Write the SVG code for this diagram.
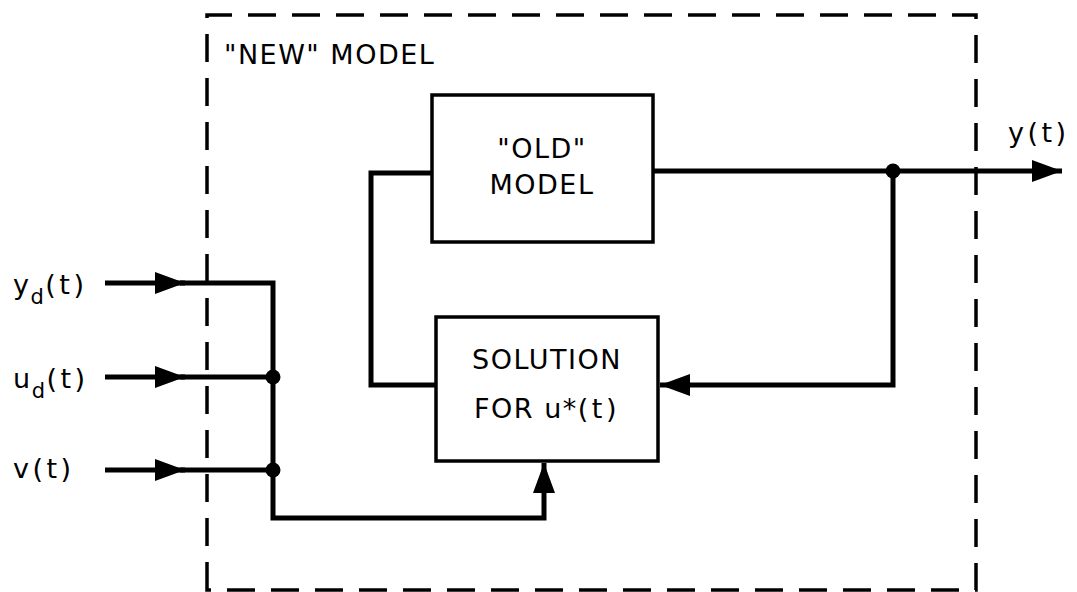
<svg xmlns="http://www.w3.org/2000/svg" width="1077" height="592" viewBox="0 0 1077 592">
<defs>
<style>
.t{font-family:"DejaVu Sans","Liberation Sans",sans-serif;font-size:27px;letter-spacing:1.5px;fill:#000}
.p{letter-spacing:3.5px}
.sub{font-size:21px}
.box{fill:#fff;stroke:#000;stroke-width:3.5}
.w{fill:none;stroke:#000;stroke-width:5;stroke-linejoin:miter}
.dash{fill:none;stroke:#000;stroke-width:3.5;stroke-dasharray:28 16}
</style>
<marker id="ah" viewBox="0 0 30 22" refX="30" refY="11" markerWidth="30" markerHeight="22" markerUnits="userSpaceOnUse" orient="auto">
<path d="M0,0 L30,11 L0,22 Z" fill="#000"/>
</marker>
</defs>
<rect fill="#fff" width="1077" height="592"/>
<g id="frame">
<path class="dash" d="M207,590 L207,15 L976,15 L976,590 Z"/>
<text class="t" x="224" y="64">"NEW"  MODEL</text>
</g>
<g id="connectors">
<path class="w" d="M653,171 L1062,171" marker-end="url(#ah)"/>
<path class="w" d="M432,173 L371,173 L371,385 L436,385"/>
<path class="w" d="M893,171 L893,385 L660,385" marker-end="url(#ah)"/>
<path class="w" d="M105,283 L185,283" marker-end="url(#ah)"/>
<path class="w" d="M105,377 L185,377" marker-end="url(#ah)"/>
<path class="w" d="M105,470 L185,470" marker-end="url(#ah)"/>
<path class="w" d="M180,283 L273,283 L273,518 L544,518 L544,463" marker-end="url(#ah)"/>
<path class="w" d="M180,377 L273,377 M180,470 L273,470"/>
<circle cx="273" cy="377" r="7.5"/>
<circle cx="273" cy="470" r="7.5"/>
<circle cx="893" cy="171" r="7.5"/>
</g>
<g id="old">
<rect class="box" x="432" y="95" width="221" height="147"/>
<text class="t" x="542" y="158" text-anchor="middle">"OLD"</text>
<text class="t" x="542" y="194" text-anchor="middle">MODEL</text>
</g>
<g id="solution">
<rect class="box" x="436" y="317" width="222" height="144"/>
<text class="t" x="547" y="369" text-anchor="middle">SOLUTION</text>
<text class="t" x="547" y="418" text-anchor="middle">FOR u*<tspan class="p">(t)</tspan></text>
</g>
<g id="labels">
<text class="t" x="13" y="294">y<tspan class="sub" dy="10">d</tspan><tspan class="p" dy="-10">(t)</tspan></text>
<text class="t" x="13" y="388">u<tspan class="sub" dy="10">d</tspan><tspan class="p" dy="-10">(t)</tspan></text>
<text class="t p" x="13" y="478">v(t)</text>
<text class="t p" x="1008" y="142">y(t)</text>
</g>
</svg>
